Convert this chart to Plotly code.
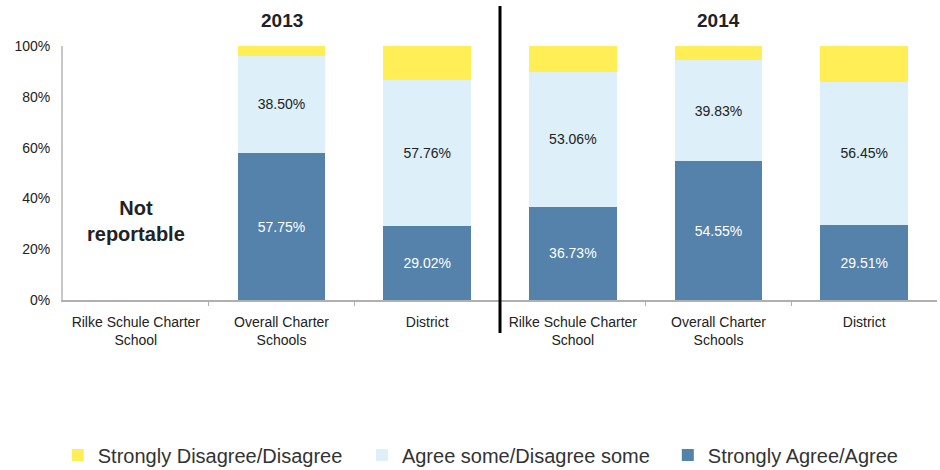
import plotly.graph_objects as go

# School groups shown for each survey year
groups = ["Rilke Schule Charter<br>School", "Overall Charter<br>Schools", "District",
          "Rilke Schule Charter<br>School", "Overall Charter<br>Schools", "District"]
years = ["2013", "2014"]

# Percent of responses per group (None = not reportable)
strongly_agree = [None, 57.75, 29.02, 36.73, 54.55, 29.51]
agree_some = [None, 38.50, 57.76, 53.06, 39.83, 56.45]
disagree = [None, 3.75, 13.22, 10.21, 5.62, 14.04]

y_ticks = [0, 20, 40, 60, 80, 100]
y_tick_labels = ["0%", "20%", "40%", "60%", "80%", "100%"]

FONT = "Liberation Sans, Arial, sans-serif"
DARK_BLUE = "#5582ab"
LIGHT_BLUE = "#ddeff9"
YELLOW = "#ffee55"

x_pos = list(range(len(groups)))
# small separators between neighbouring groups (the year split gets the divider line)
group_breaks = [i + 0.5 for i in x_pos[:-1] if i != 2]

fig = go.Figure()
fig.add_trace(go.Bar(
    x=x_pos, y=strongly_agree, name="Strongly Agree/Agree", legend="legend3",
    marker=dict(color=DARK_BLUE, line=dict(width=0)),
    texttemplate="%{y:.2f}%", textposition="inside", insidetextanchor="middle",
    textfont=dict(color="white", size=14, family=FONT),
))
fig.add_trace(go.Bar(
    x=x_pos, y=agree_some, name="Agree some/Disagree some", legend="legend2",
    marker=dict(color=LIGHT_BLUE, line=dict(width=0)),
    texttemplate="%{y:.2f}%", textposition="inside", insidetextanchor="middle",
    textfont=dict(color="#222222", size=14, family=FONT),
))
fig.add_trace(go.Bar(
    x=x_pos, y=disagree, name="Strongly Disagree/Disagree", legend="legend",
    marker=dict(color=YELLOW, line=dict(width=0)),
    texttemplate="", hoverinfo="skip",
))

# Year headers above each half
for i, yr in enumerate(years):
    fig.add_annotation(x=1 + 3 * i, y=1.0, xref="x", yref="paper", yanchor="bottom",
                       yshift=13, text=f"<b>{yr}</b>", showarrow=False,
                       font=dict(size=19, family=FONT, color="#222222"))

fig.add_annotation(x=0, y=31, xref="x", yref="y", text="<b>Not<br>reportable</b>",
                   showarrow=False, font=dict(size=20, family=FONT, color="#222222"))

# Divider between the two years
fig.add_shape(type="line", xref="x", yref="paper", x0=2.5, x1=2.5, y0=-0.13, y1=1.157,
              line=dict(color="black", width=3))

legend_style = dict(orientation="h", y=-0.61, yanchor="middle", xanchor="left",
                    font=dict(size=20, family=FONT, color="#333333"),
                    itemwidth=30, bgcolor="rgba(0,0,0,0)")

fig.update_layout(
    width=940, height=470,
    margin=dict(l=63, r=3, t=46, b=170, autoexpand=False),
    barmode="stack", bargap=0.4,
    plot_bgcolor="white", paper_bgcolor="white",
    font=dict(family=FONT, color="#222222", size=14),
    showlegend=True,
    legend=dict(x=-0.006, **legend_style),
    legend2=dict(x=0.342, **legend_style),
    legend3=dict(x=0.692, **legend_style),
    xaxis=dict(tickvals=x_pos, ticktext=groups, range=[-0.5, 5.5],
               showline=True, linecolor="#b0b0b0", linewidth=2, showgrid=False,
               tickfont=dict(size=14, family=FONT), ticks="", ticklabelstandoff=8,
               minor=dict(tickmode="array", tickvals=group_breaks, ticks="outside",
                          ticklen=4, tickcolor="#b0b0b0", tickwidth=1, showgrid=False)),
    yaxis=dict(range=[0, 100], tickvals=y_ticks, ticktext=y_tick_labels,
               showline=True, linecolor="#c8c8c8", linewidth=2, showgrid=False,
               zeroline=False, tickfont=dict(size=14, family=FONT), ticks="",
               ticklabelstandoff=8),
)

fig.write_html("out.html")
